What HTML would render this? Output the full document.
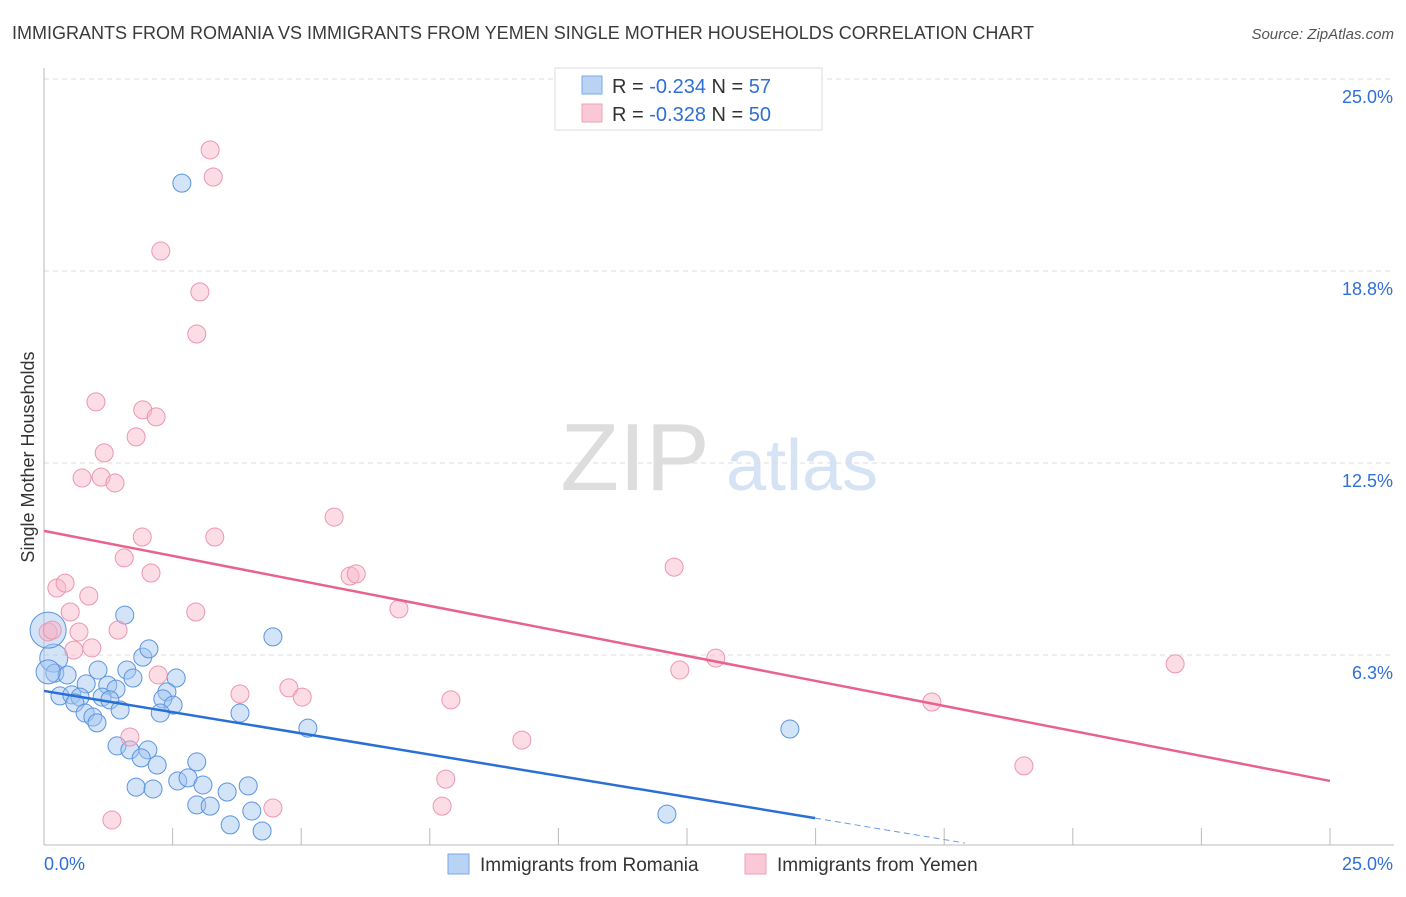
<!DOCTYPE html>
<html><head><meta charset="utf-8">
<style>
body{margin:0;background:#fff;font-family:"Liberation Sans",sans-serif;}
svg text{font-family:"Liberation Sans",sans-serif;}
</style></head>
<body>
<svg id="chart" width="1406" height="892" xmlns="http://www.w3.org/2000/svg">
<text x="12" y="39" font-size="18" fill="#3a3a3a">IMMIGRANTS FROM ROMANIA VS IMMIGRANTS FROM YEMEN SINGLE MOTHER HOUSEHOLDS CORRELATION CHART</text>
<text x="1394" y="39" font-size="15" fill="#555" text-anchor="end" font-style="italic">Source: ZipAtlas.com</text>
<g>
<text x="635" y="490" font-size="96" fill="#ddd" font-family="Liberation Serif" text-anchor="middle">ZIP</text>
<text x="802" y="490" font-size="72" fill="#d5e3f5" text-anchor="middle">atlas</text>
</g>
<text transform="translate(34,457) rotate(-90)" font-size="18" fill="#333" text-anchor="middle">Single Mother Households</text>
<g id="grid"></g>
<g id="axes"></g>
<g id="marks"></g>
<g>
<rect x="555" y="68" width="267" height="62" fill="#fff" stroke="#ddd"/>
<rect x="582" y="76" width="20" height="18" fill="#b9d3f5" stroke="#7aa7e6"/>
<text x="612" y="93" font-size="20" fill="#333">R = <tspan fill="#2f6fd6">-0.234</tspan>   N = <tspan fill="#2f6fd6">57</tspan></text>
<rect x="582" y="104" width="20" height="18" fill="#fac8d6" stroke="#eea0b6"/>
<text x="612" y="121" font-size="20" fill="#333">R = <tspan fill="#2f6fd6">-0.328</tspan>   N = <tspan fill="#2f6fd6">50</tspan></text>
</g>
<g>
<rect x="448" y="854" width="21" height="20" fill="#b9d3f5" stroke="#7aa7e6"/>
<text x="480" y="871" font-size="19" fill="#333">Immigrants from Romania</text>
<rect x="745" y="854" width="21" height="20" fill="#fac8d6" stroke="#eea0b6"/>
<text x="777" y="871" font-size="19" fill="#333">Immigrants from Yemen</text>
</g>
</svg>
<script>
const yTicks=[6.25,12.5,18.75,25];
const yTickLabels=["6.3%","12.5%","18.8%","25.0%"];
const xLabels=["0.0%","25.0%"];
const romaniaX=[1.57,4.45,0.19,1.05,1.61,1.73,0.21,0.45,0.82,1.24,1.40,1.92,2.04,2.57,2.39,2.31,2.51,2.26,3.81,5.13,0.31,0.54,0.70,0.60,1.13,1.28,1.48,0.80,0.95,1.03,1.42,1.67,2.02,1.89,2.20,2.97,1.79,2.12,2.60,2.80,3.09,3.56,3.97,2.97,3.23,4.04,3.62,4.24,2.68,14.50,12.11,0.08,0.08];
const romaniaY=[7.55,6.84,6.15,5.76,5.76,5.5,5.66,5.6,5.31,5.27,5.14,6.18,6.45,5.5,5.05,4.82,4.62,4.36,4.36,3.87,4.92,4.95,4.88,4.69,4.88,4.79,4.46,4.36,4.23,4.04,3.29,3.16,3.16,2.90,2.67,2.77,1.95,1.89,2.15,2.25,2.02,1.79,1.99,1.37,1.33,1.17,0.72,0.52,21.61,3.84,1.07,7.06,5.7];
const romaniaR=[9,9,14,9,9,9,9,9,9,9,9,9,9,9,9,9,9,9,9,9,9,9,9,9,9,9,9,9,9,9,9,9,9,9,9,9,9,9,9,9,9,9,9,9,9,9,9,9,9,9,9,18,12];
const yemenX=[3.23,3.29,2.27,3.03,2.97,1.01,1.92,2.18,1.79,1.17,0.74,1.11,1.38,5.64,1.91,3.32,1.56,2.08,5.95,6.07,12.25,0.25,0.41,0.87,0.51,2.95,6.90,1.44,0.68,0.08,0.16,0.93,0.58,2.22,12.36,13.06,21.99,3.81,4.76,5.02,7.91,17.26,1.67,9.29,7.81,7.74,4.45,1.32,19.05];
const yemenY=[22.69,21.81,19.40,18.07,16.70,14.49,14.23,14.0,13.35,12.83,12.01,12.04,11.85,10.74,10.09,10.09,9.41,8.92,8.82,8.89,9.11,8.43,8.59,8.17,7.65,7.65,7.75,7.06,7.0,7.0,7.06,6.48,6.41,5.60,5.76,6.15,5.96,4.98,5.18,4.88,4.79,4.72,3.58,3.48,2.21,1.33,1.27,0.88,2.64];
const trendRomania=[[0,5.08],[14.99,0.94]];
const trendRomaniaDash=[[14.99,0.94],[17.9,0.13]];
const trendYemen=[[0,10.29],[25,2.15]];

const NS="http://www.w3.org/2000/svg";
const X=v=>44+v*51.44;
const Y=v=>847-v*30.72;
function mk(tag,attrs,parent){const e=document.createElementNS(NS,tag);for(const k in attrs)e.setAttribute(k,attrs[k]);parent.appendChild(e);return e;}
const grid=document.getElementById('grid'),axes=document.getElementById('axes'),marks=document.getElementById('marks');
yTicks.forEach((t,i)=>{
  const l=mk('line',{x1:44,x2:1394,y1:Y(t),y2:Y(t),stroke:'#ddd','stroke-dasharray':'5,4'},grid);
  
  
  const tx=mk('text',{x:1393,y:Y(t)+24,'font-size':18,fill:'#2f6fd6','text-anchor':'end'},axes);
  tx.textContent=yTickLabels[i];
  
  
});
const xa=mk('line',{x1:44,x2:1394,y1:845,y2:845,stroke:'#bbb'},axes);


const ya=mk('line',{x1:44,x2:44,y1:68,y2:845,stroke:'#bbb'},axes);


for(let i=1;i<=10;i++){
  const t=mk('line',{x1:X(i*2.5),x2:X(i*2.5),y1:828,y2:845,stroke:'#bbb'},axes);
  
  
}
[[0,'start',44],[25,'end',1393]].forEach((d,i)=>{
  const t=mk('text',{x:d[2],y:870,'font-size':18,fill:'#2f6fd6','text-anchor':d[1]},axes);
  t.textContent=xLabels[i];
  
  
});
romaniaX.forEach((x,i)=>{
  const c=mk('circle',{cx:X(x),cy:Y(romaniaY[i]),r:romaniaR[i],fill:'rgba(160,195,240,0.45)',stroke:'#5b94e0','stroke-width':1},marks);
  
  
});
yemenX.forEach((x,i)=>{
  const c=mk('circle',{cx:X(x),cy:Y(yemenY[i]),r:9,fill:'rgba(248,180,200,0.45)',stroke:'#ee95b0','stroke-width':1},marks);
  
  
});
const l1=mk('line',{x1:X(trendRomania[0][0]),y1:Y(trendRomania[0][1]),x2:X(trendRomania[1][0]),y2:Y(trendRomania[1][1]),stroke:'#2a6fd6','stroke-width':2.5},marks);


const l2=mk('line',{x1:X(trendRomaniaDash[0][0]),y1:Y(trendRomaniaDash[0][1]),x2:X(trendRomaniaDash[1][0]),y2:Y(trendRomaniaDash[1][1]),stroke:'#6a9be0','stroke-width':1,'stroke-dasharray':'6,4'},marks);


const l3=mk('line',{x1:X(trendYemen[0][0]),y1:Y(trendYemen[0][1]),x2:X(trendYemen[1][0]),y2:Y(trendYemen[1][1]),stroke:'#e8628e','stroke-width':2.5},marks);


</script>
</body></html>
